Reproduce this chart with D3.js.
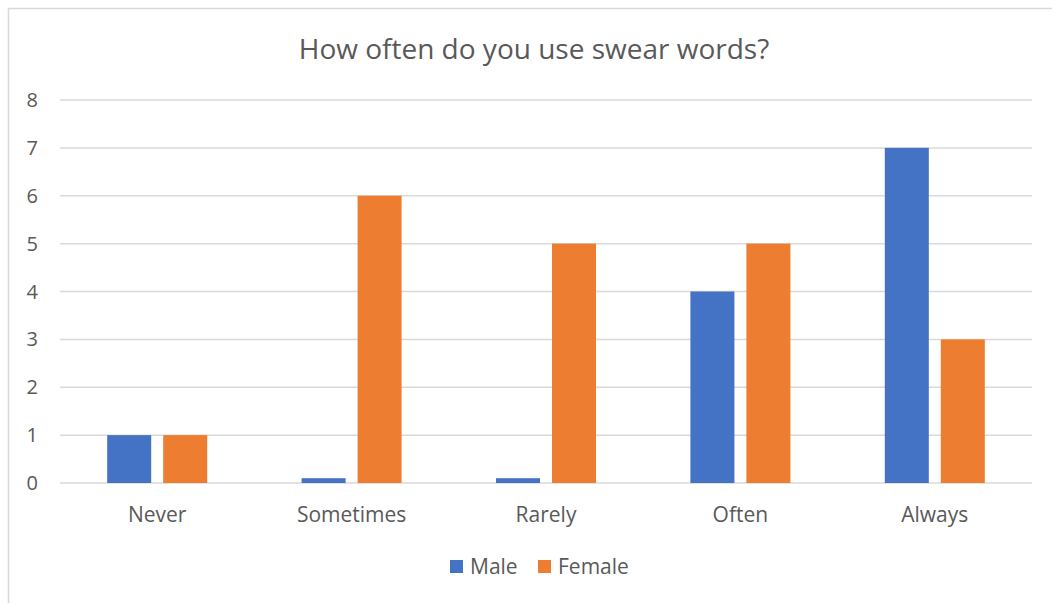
<!DOCTYPE html>
<html><head><meta charset="utf-8">
<script src="https://cdn.jsdelivr.net/npm/d3@7"></script>
<style>body{margin:0;background:#fff}svg{display:block}</style>
</head><body><svg id="c" width="1052" height="603"></svg>
<script>
const categories = ["Never","Sometimes","Rarely","Often","Always"];
const seriesNames = ["Male","Female"];
const male = [1,0.1,0.1,4,7];
const female = [1,6,5,5,3];
const yTicks = [0,1,2,3,4,5,6,7,8];
const colors = ["#4472C4","#ED7D31"];
const font = "'Open Sans', sans-serif";

const svg = d3.select("#c");
svg.append("rect").attr("x",8.5).attr("y",8.5).attr("width",1060).attr("height",620)
  .attr("fill","#fff").attr("stroke","#D9D9D9").attr("stroke-width",1.5);

const x = d3.scaleBand().domain(categories).range([60,1032]);
const y = d3.scaleLinear().domain([0,8]).range([483,100]);

const g = svg.append("g");
g.selectAll("line.grid").data(yTicks).join("line")
  .attr("x1",60).attr("x2",1032).attr("y1",d=>y(d)).attr("y2",d=>y(d))
  .attr("stroke","#D9D9D9").attr("stroke-width",1.5);
g.selectAll("text.yt").data(yTicks).join("text")
  .attr("x",38).attr("y",d=>y(d)).attr("dy","0.35em").attr("text-anchor","end")
  .attr("font-family",font).attr("font-size",20).attr("fill","#595959").text(d=>d);

const x1 = d3.scaleBand().domain(seriesNames).range([0,x.bandwidth()]).paddingInner(0.214).paddingOuter(0.843);
const data = [male,female];
seriesNames.forEach((s,i)=>{
  g.selectAll("rect.s"+i).data(categories).join("rect")
    .attr("x",c=>x(c)+x1(s)).attr("width",x1.bandwidth())
    .attr("y",(c,j)=>y(data[i][j])).attr("height",(c,j)=>y(0)-y(data[i][j]))
    .attr("fill",colors[i]);
});
g.selectAll("text.xt").data(categories).join("text")
  .attr("x",c=>x(c)+x.bandwidth()/2).attr("y",522).attr("text-anchor","middle")
  .attr("font-family",font).attr("font-size",21).attr("fill","#595959").text(c=>c);

svg.append("text").attr("x",534).attr("y",59).attr("text-anchor","middle")
  .attr("font-family",font).attr("font-size",28).attr("fill","#595959")
  .text("How often do you use swear words?");

const legX = [450,538];
seriesNames.forEach((s,i)=>{
  svg.append("rect").attr("x",legX[i]).attr("y",560).attr("width",13).attr("height",13).attr("fill",colors[i]);
  svg.append("text").attr("x",legX[i]+20).attr("y",574)
    .attr("font-family",font).attr("font-size",21).attr("fill","#595959").text(s);
});
</script></body></html>
